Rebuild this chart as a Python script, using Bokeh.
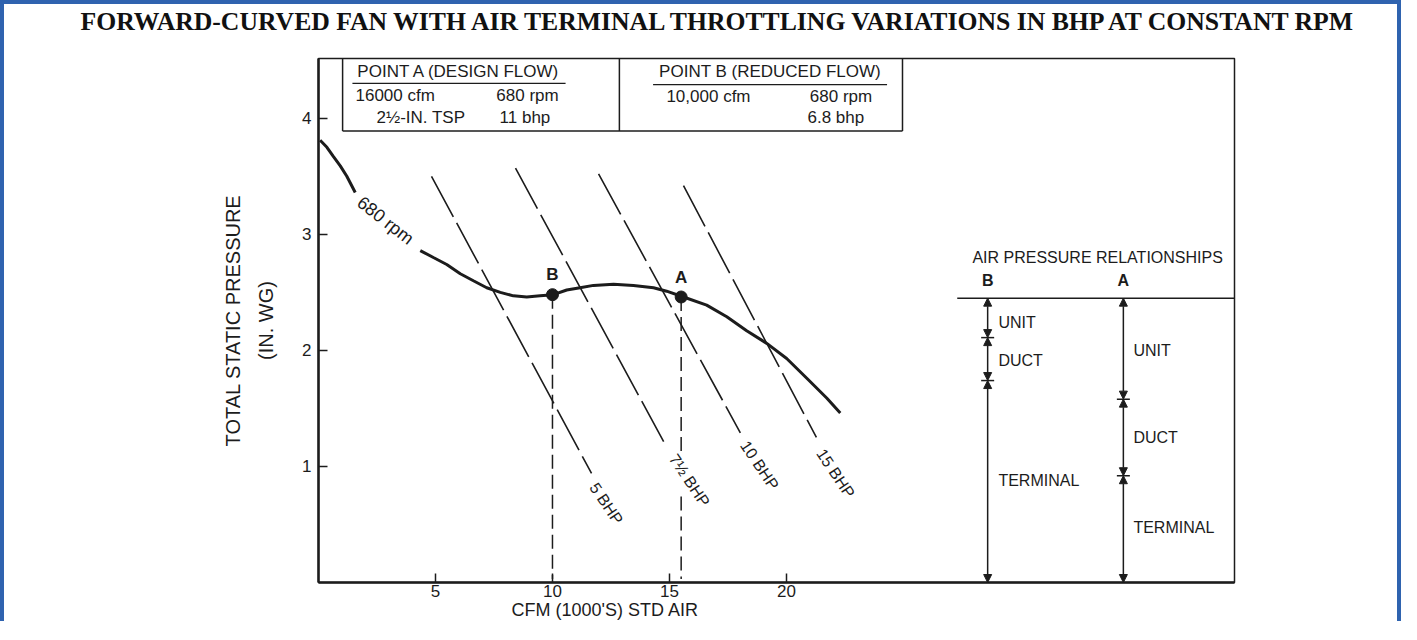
from bokeh.plotting import figure
from bokeh.models import (Arrow, NormalHead, Range1d, FixedTicker, ColumnDataSource, Title,
                          LinearAxis)
from bokeh.embed import file_html
from bokeh.resources import INLINE
from bokeh.core.properties import value

# ---------------- data ----------------
# 680 rpm fan curve (cfm in 1000's, total static pressure in. wg)
curve_upper_x = [0.07, 0.36, 0.64, 0.93, 1.21, 1.57]
curve_upper_y = [3.81, 3.75, 3.67, 3.59, 3.50, 3.36]
curve_lower_x = [4.35, 4.91, 5.48, 6.06, 6.62, 7.19, 7.77, 8.33, 8.90, 9.47, 10.04,
                 10.61, 11.18, 11.75, 12.61, 13.46, 14.32, 14.88, 15.60, 16.59, 17.45,
                 18.30, 19.16, 20.01, 20.87, 21.72, 22.30]
curve_lower_y = [2.86, 2.80, 2.74, 2.66, 2.60, 2.54, 2.50, 2.47, 2.46, 2.47, 2.48,
                 2.52, 2.54, 2.56, 2.57, 2.56, 2.54, 2.51, 2.46, 2.39, 2.29,
                 2.17, 2.06, 1.93, 1.76, 1.59, 1.46]

# constant BHP lines
bhp_labels = ["5 BHP", "7½ BHP", "10 BHP", "15 BHP"]
bhp_x0 = [4.83, 8.42, 11.97, 15.60]
bhp_y0 = [3.50, 3.57, 3.52, 3.42]
bhp_x1 = [11.67, 14.87, 18.03, 21.28]
bhp_y1 = [0.94, 1.17, 1.29, 1.25]

# operating points
point_names = ["B", "A"]
point_cfm = [10.0, 15.5]
point_tsp = [2.48, 2.46]

# air pressure relationships (in. wg), top -> bottom boundaries
components = ["UNIT", "DUCT", "TERMINAL"]
press_B = [2.45, 2.11, 1.74, 0.0]
press_A = [2.45, 1.58, 0.92, 0.0]

x_ticks = [5, 10, 15, 20]
y_ticks = [1, 2, 3, 4]

X_MAX = 39.15
Y_MAX = 4.515

INK = "#1c1c1c"
SANS = "Liberation Sans"
TITLE = "FORWARD-CURVED FAN WITH AIR TERMINAL THROTTLING VARIATIONS IN BHP AT CONSTANT RPM"

p = figure(frame_width=916, frame_height=524,
           x_range=Range1d(0, X_MAX), y_range=Range1d(0, Y_MAX),
           min_border_left=314, min_border_right=163, min_border_top=54,
           min_border_bottom=0, output_backend="svg", toolbar_location=None,
           background_fill_color="white", border_fill_color="white")
p.styles = {"border-top": "4px solid #2F63AF", "border-left": "4px solid #2F63AF",
            "border-right": "4px solid #2F63AF"}
p.grid.visible = False
p.outline_line_color = INK
p.outline_line_width = 1.5

xax = p.xaxis[0]
yax = p.yaxis[0]

for ax, ticks in ((xax, x_ticks), (yax, y_ticks)):
    ax.ticker = FixedTicker(ticks=ticks)
    ax.axis_line_color = INK
    ax.axis_line_width = 2.5
    ax.major_tick_in = 9
    ax.major_tick_out = 0
    ax.major_tick_line_color = INK
    ax.major_tick_line_width = 1.5
    ax.minor_tick_line_color = None
    ax.major_label_text_font = SANS
    ax.major_label_text_font_size = "17px"
    ax.major_label_text_color = INK
xax.major_label_standoff = 2
yax.major_label_standoff = 7

# y axis label (two lines)
yax.axis_label = "TOTAL STATIC PRESSURE\n(IN. WG)"
yax.axis_label_standoff = 22
yax.axis_label_text_font = SANS
yax.axis_label_text_font_style = "normal"
yax.axis_label_text_font_size = "20px"
yax.axis_label_text_line_height = 1.5
yax.axis_label_text_color = INK

# x axis label (offset towards the chart area, like the original)
p.add_layout(Title(text="CFM (1000'S) STD AIR", align="left", offset=193,
                   vertical_align="top", standoff=0, text_font=SANS,
                   text_font_style="normal", text_font_size="18px",
                   text_color=INK), "below")

# invisible spacer between frame and chart title (one hidden tick, no label text)
spacer = LinearAxis(ticker=FixedTicker(ticks=[20]), major_label_overrides={20: ""},
                    axis_line_color=None, major_tick_line_color=None,
                    minor_tick_line_color=None, major_tick_in=0, major_tick_out=22,
                    minor_tick_in=0, minor_tick_out=0, major_label_standoff=0,
                    major_label_text_font_size="1px")
p.add_layout(spacer, "above")

# chart title
p.title.text = TITLE
p.title.align = "left"
p.title.offset = -238
p.title.standoff = 0
p.title.vertical_align = "middle"
p.title.text_font = "Liberation Serif"
p.title.text_font_style = "bold"
p.title.text_font_size = "25.7px"
p.title.text_color = "#111111"

# fan curve
p.line(curve_upper_x, curve_upper_y, line_color=INK, line_width=3)
p.line(curve_lower_x, curve_lower_y, line_color=INK, line_width=3)
p.text([2.86], [3.12], text=["680 rpm"], angle=-0.66, text_align="center",
       text_baseline="middle", text_font=value(SANS), text_font_size="18px",
       text_color=INK)

# BHP lines
p.segment(bhp_x0, bhp_y0, bhp_x1, bhp_y1, line_color=INK, line_width=1.6,
          line_dash="46 7")
bhp_lx = [12.3, 15.85, 18.85, 22.1]
bhp_ly = [0.68, 0.88, 1.01, 0.94]
p.text(bhp_lx, bhp_ly, text=bhp_labels, angle=-0.98, text_align="center",
       text_baseline="middle", text_font=value(SANS), text_font_size="16px",
       text_color=INK)

# drop lines from points
p.segment([point_cfm[0]], [point_tsp[0]], [point_cfm[0]], [0.03],
          line_color=INK, line_width=1.5, line_dash="14 6")
p.segment([point_cfm[1], point_cfm[1]], [point_tsp[1], 0.74], [point_cfm[1], point_cfm[1]],
          [1.12, 0.03], line_color=INK, line_width=1.5, line_dash="14 6")
p.scatter(point_cfm, point_tsp, marker="circle", size=12, fill_color=INK, line_color=INK)
p.text(point_cfm, [t + 0.17 for t in point_tsp], text=point_names, text_align="center",
       text_baseline="middle", text_font=value(SANS), text_font_size="17px",
       text_font_style="bold", text_color=INK)

# info box
p.segment([1.03, 12.86, 24.96, 1.03], [3.89, 3.89, 3.89, 3.89],
          [1.03, 12.86, 24.96, 24.96], [Y_MAX, Y_MAX, Y_MAX, 3.89],
          line_color=INK, line_width=1.5)
p.segment([1.45, 14.3], [4.30, 4.29], [10.56, 24.3], [4.30, 4.29],
          line_color=INK, line_width=1.2)
box_font = dict(text_font=value(SANS), text_font_size="17px", text_color=INK,
                text_baseline="middle")
p.text([6.0, 19.3], [4.40, 4.40], text=["POINT A (DESIGN FLOW)", "POINT B (REDUCED FLOW)"],
       text_align="center", **box_font)
p.text([1.58, 7.6, 2.48, 7.74, 14.87, 21.0, 20.9],
       [4.20, 4.20, 4.01, 4.01, 4.19, 4.19, 4.01],
       text=["16000 cfm", "680 rpm", "2½-IN. TSP", "11 bhp", "10,000 cfm", "680 rpm", "6.8 bhp"],
       text_align="left", **box_font)

# air pressure relationships
xB, xA = 28.6, 34.4
p.segment([27.3], [press_A[0]], [X_MAX], [press_A[0]], line_color=INK, line_width=1.5)
p.text([33.3], [2.80], text=["AIR PRESSURE RELATIONSHIPS"], text_align="center",
       text_baseline="middle", text_font=value(SANS), text_font_size="16px", text_color=INK)
p.text([xB, xA], [2.60, 2.60], text=point_names, text_align="center",
       text_baseline="middle", text_font=value(SANS), text_font_size="16px",
       text_font_style="bold", text_color=INK)

arr = ColumnDataSource(dict(
    xs=[xB] * 3 + [xA] * 3,
    ys=press_B[:3] + press_A[:3],
    xe=[xB] * 3 + [xA] * 3,
    ye=press_B[1:] + press_A[1:],
))
p.add_layout(Arrow(start=NormalHead(size=8, fill_color=INK, line_color=INK, line_width=1),
                   end=NormalHead(size=8, fill_color=INK, line_color=INK, line_width=1),
                   x_start="xs", y_start="ys", x_end="xe", y_end="ye",
                   line_color=INK, line_width=1.5, source=arr))
p.scatter([xB, xB, xA, xA], [press_B[1], press_B[2], press_A[1], press_A[2]],
          marker="dash", size=13, line_color=INK, line_width=1.5)
p.text([29.06] * 3, [2.24, 1.91, 0.88], text=components, text_align="left",
       text_baseline="middle", text_font=value(SANS), text_font_size="16px", text_color=INK)
p.text([34.83] * 3, [2.00, 1.25, 0.47], text=components, text_align="left",
       text_baseline="middle", text_font=value(SANS), text_font_size="16px", text_color=INK)

open("out.html", "w").write(file_html(p, INLINE))
